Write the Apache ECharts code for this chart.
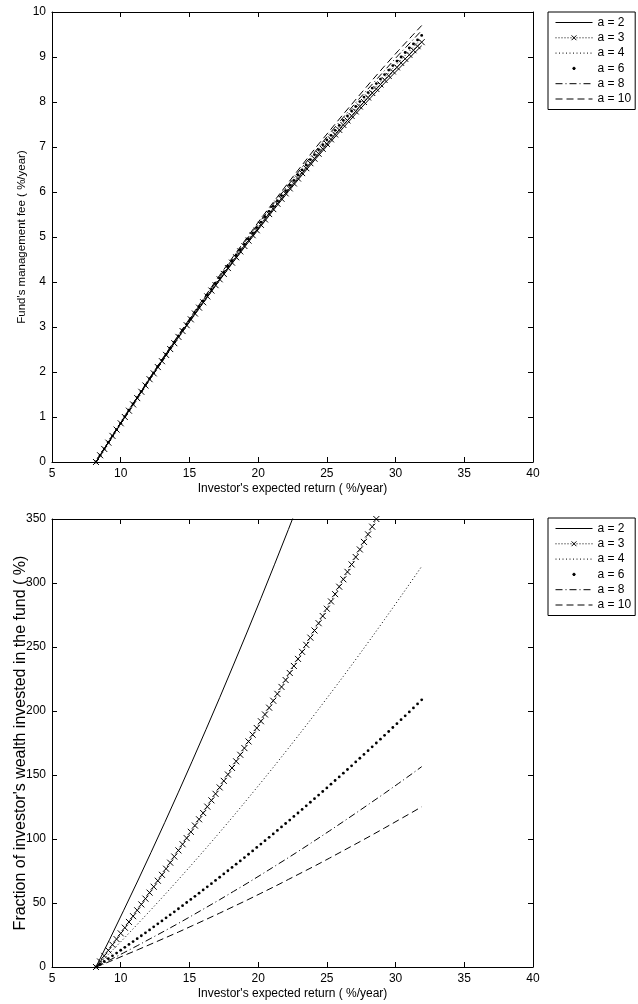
<!DOCTYPE html>
<html>
<head>
<meta charset="utf-8">
<script src="https://cdn.jsdelivr.net/npm/echarts@6/dist/echarts.min.js"></script>
<style>
  html, body { margin: 0; padding: 0; background: #fff; }
  #main { width: 638px; height: 1004px; }
</style>
</head>
<body>
<div id="main"></div>
<script>
'use strict';

// legend names
var aNames = ['a = 2', 'a = 3', 'a = 4', 'a = 6', 'a = 8', 'a = 10'];

// investor's expected return (%/year): dense grid for marker series, coarse grid for plain lines
var xDense = [8.2, 8.5, 8.8, 9.1, 9.4, 9.7, 10.0, 10.3, 10.6, 10.9, 11.2, 11.5, 11.8, 12.1, 12.4, 12.7,
  13.0, 13.3, 13.6, 13.9, 14.2, 14.5, 14.8, 15.1, 15.4, 15.7, 16.0, 16.3, 16.6, 16.9, 17.2, 17.5,
  17.8, 18.1, 18.4, 18.7, 19.0, 19.3, 19.6, 19.9, 20.2, 20.5, 20.8, 21.1, 21.4, 21.7, 22.0, 22.3,
  22.6, 22.9, 23.2, 23.5, 23.8, 24.1, 24.4, 24.7, 25.0, 25.3, 25.6, 25.9, 26.2, 26.5, 26.8, 27.1,
  27.4, 27.7, 28.0, 28.3, 28.6, 28.9, 29.2, 29.5, 29.8, 30.1, 30.4, 30.7, 31.0, 31.3, 31.6, 31.9];
var xCoarse = [8.2, 9.2, 10.2, 11.2, 12.2, 13.2, 14.2, 15.2, 16.2, 17.2, 18.2, 19.2, 20.2, 21.2,
  22.2, 23.2, 24.2, 25.2, 26.2, 27.2, 28.2, 29.2, 30.2, 31.2, 31.9];

// top panel: fund's management fee (%/year)
var feeA2 = [0, 0.48, 0.95, 1.42, 1.88, 2.33, 2.77, 3.20, 3.62, 4.04, 4.45, 4.85, 5.24, 5.63, 6.01,
  6.38, 6.74, 7.09, 7.43, 7.77, 8.10, 8.42, 8.73, 9.04, 9.25];
var feeA3 = [0, 0.15, 0.29, 0.43, 0.58, 0.72, 0.86, 1.00, 1.14, 1.28, 1.42, 1.56, 1.70, 1.84, 1.97,
  2.11, 2.24, 2.38, 2.51, 2.64, 2.78, 2.91, 3.04, 3.17, 3.30, 3.43, 3.55, 3.68, 3.81, 3.93, 4.06,
  4.18, 4.31, 4.43, 4.55, 4.68, 4.80, 4.92, 5.04, 5.15, 5.27, 5.39, 5.51, 5.62, 5.74, 5.85, 5.97,
  6.08, 6.19, 6.30, 6.42, 6.53, 6.64, 6.74, 6.85, 6.96, 7.07, 7.17, 7.28, 7.38, 7.49, 7.59, 7.69,
  7.79, 7.90, 8.00, 8.10, 8.20, 8.29, 8.39, 8.49, 8.58, 8.68, 8.77, 8.87, 8.96, 9.05, 9.15, 9.24, 9.33];
var feeA4 = [0, 0.48, 0.96, 1.43, 1.89, 2.34, 2.79, 3.22, 3.66, 4.08, 4.49, 4.90, 5.30, 5.69, 6.08,
  6.46, 6.82, 7.19, 7.54, 7.89, 8.22, 8.55, 8.88, 9.19, 9.41];
var feeA6 = [0, 0.15, 0.29, 0.44, 0.58, 0.72, 0.86, 1.01, 1.15, 1.29, 1.43, 1.57, 1.71, 1.85, 1.98,
  2.12, 2.26, 2.39, 2.53, 2.66, 2.80, 2.93, 3.06, 3.19, 3.32, 3.45, 3.58, 3.71, 3.84, 3.97, 4.09,
  4.22, 4.35, 4.47, 4.60, 4.72, 4.84, 4.96, 5.09, 5.21, 5.33, 5.45, 5.57, 5.68, 5.80, 5.92, 6.03,
  6.15, 6.26, 6.38, 6.49, 6.60, 6.72, 6.83, 6.94, 7.05, 7.16, 7.26, 7.37, 7.48, 7.59, 7.69, 7.80,
  7.90, 8.01, 8.11, 8.21, 8.31, 8.41, 8.51, 8.61, 8.71, 8.81, 8.91, 9.00, 9.10, 9.20, 9.29, 9.38, 9.48];
var feeA8 = [0, 0.48, 0.96, 1.43, 1.90, 2.36, 2.81, 3.25, 3.69, 4.12, 4.54, 4.96, 5.37, 5.77, 6.16,
  6.55, 6.92, 7.30, 7.66, 8.02, 8.36, 8.70, 9.04, 9.36, 9.59];
var feeA10 = [0, 0.48, 0.97, 1.44, 1.91, 2.37, 2.82, 3.27, 3.71, 4.15, 4.57, 4.99, 5.41, 5.81, 6.21,
  6.60, 6.99, 7.36, 7.73, 8.09, 8.45, 8.80, 9.14, 9.47, 9.70];

// bottom panel: fraction of investor's wealth invested in the fund (%)
var fracA2 = [0, 21.7, 43.9, 66.4, 89.4, 112.8, 136.6, 160.8, 185.4, 210.4, 235.9, 261.7, 288.0,
  314.7, 341.8, 369.3];
var fracA3 = [0, 4.3, 8.7, 13.0, 17.4, 21.8, 26.3, 30.7, 35.2, 39.7, 44.3, 48.9, 53.4, 58.1, 62.7,
  67.4, 72.0, 76.8, 81.5, 86.3, 91.1, 95.9, 100.7, 105.6, 110.5, 115.4, 120.3, 125.3, 130.2, 135.3,
  140.3, 145.4, 150.4, 155.5, 160.7, 165.8, 171.0, 176.2, 181.5, 186.7, 192.0, 197.3, 202.6, 208.0,
  213.4, 218.8, 224.2, 229.7, 235.2, 240.7, 246.2, 251.7, 257.3, 262.9, 268.6, 274.2, 279.9, 285.6,
  291.3, 297.1, 302.9, 308.7, 314.5, 320.3, 326.2, 332.1, 338.0, 344.0, 350.0, 356.0];
var fracA4 = [0, 10.9, 21.9, 33.2, 44.7, 56.4, 68.3, 80.4, 92.7, 105.2, 117.9, 130.9, 144.0, 157.3,
  170.9, 184.6, 198.6, 212.8, 227.1, 241.7, 256.5, 271.5, 286.7, 302.1, 313.0];
var fracA6 = [0, 2.2, 4.3, 6.5, 8.7, 10.9, 13.1, 15.4, 17.6, 19.9, 22.1, 24.4, 26.7, 29.0, 31.4,
  33.7, 36.0, 38.4, 40.8, 43.1, 45.5, 47.9, 50.4, 52.8, 55.2, 57.7, 60.2, 62.6, 65.1, 67.6, 70.1,
  72.7, 75.2, 77.8, 80.3, 82.9, 85.5, 88.1, 90.7, 93.4, 96.0, 98.7, 101.3, 104.0, 106.7, 109.4,
  112.1, 114.8, 117.6, 120.3, 123.1, 125.9, 128.7, 131.5, 134.3, 137.1, 139.9, 142.8, 145.7, 148.5,
  151.4, 154.3, 157.2, 160.2, 163.1, 166.1, 169.0, 172.0, 175.0, 178.0, 181.0, 184.0, 187.1, 190.1,
  193.2, 196.2, 199.3, 202.4, 205.5, 208.7];
var fracA8 = [0, 5.4, 11.0, 16.6, 22.4, 28.2, 34.1, 40.2, 46.4, 52.6, 59.0, 65.4, 72.0, 78.7, 85.4,
  92.3, 99.3, 106.4, 113.6, 120.9, 128.3, 135.7, 143.3, 151.0, 156.5];
var fracA10 = [0, 4.3, 8.8, 13.3, 17.9, 22.6, 27.3, 32.2, 37.1, 42.1, 47.2, 52.3, 57.6, 62.9, 68.4,
  73.9, 79.4, 85.1, 90.9, 96.7, 102.6, 108.6, 114.7, 120.8, 125.2];

function ready(fn) {
  if (document.readyState === 'loading') {
    document.addEventListener('DOMContentLoaded', fn);
  } else {
    fn();
  }
}

ready(function () {
  var FONT = '"Liberation Sans", Arial, sans-serif';

  // marker shapes (the dot is padded so the legend copy stays small too)
  var xMark = 'path://M0,0L10,10M10,0L0,10';
  var dotMark = 'path://M0,0M10,10M7.5,5A2.5,2.5,0,1,1,2.5,5A2.5,2.5,0,1,1,7.5,5Z';

  var seriesStyle = {
    'a = 2': { symbol: 'none', lineStyle: { color: '#000', width: 1 } },
    'a = 3': { symbol: xMark, symbolSize: 6, lineStyle: { color: '#000', width: 1, type: [1, 2] } },
    'a = 4': { symbol: 'none', lineStyle: { color: '#000', width: 1, type: [1, 2.5] } },
    'a = 6': { symbol: dotMark, symbolSize: 5.6, lineStyle: { color: '#000', width: 0, opacity: 0 } },
    'a = 8': { symbol: 'none', lineStyle: { color: '#000', width: 1, type: [7, 3, 1, 3] } },
    'a = 10': { symbol: 'none', lineStyle: { color: '#000', width: 1, type: [7, 4] } }
  };

  function pairs(xs, ys) {
    return ys.map(function (y, i) { return [xs[i], y]; });
  }

  function makeSeries(name, xs, ys, axisIdx) {
    var st = seriesStyle[name];
    return {
      name: name,
      type: 'line',
      xAxisIndex: axisIdx,
      yAxisIndex: axisIdx,
      data: pairs(xs, ys),
      color: '#000',
      symbol: st.symbol,
      symbolSize: st.symbolSize || 4,
      symbolKeepAspect: true,
      showSymbol: st.symbol !== 'none',
      itemStyle: { color: '#000', borderColor: '#000', borderWidth: st.symbol === xMark ? 1 : 0 },
      lineStyle: st.lineStyle,
      clip: true,
      silent: true,
      emphasis: { disabled: true },
      z: 3
    };
  }

  var axisText = { color: '#000', fontFamily: FONT, fontSize: 12 };

  function xAx(grid, pos) {
    var main = pos === 'bottom';
    return {
      type: 'value', gridIndex: grid, position: pos, min: 5, max: 40, interval: 5,
      name: main ? "Investor's expected return ( %/year)" : '',
      nameLocation: 'middle', nameGap: 21, nameMoveOverlap: false,
      nameTextStyle: { color: '#000', fontFamily: FONT, fontSize: 12 },
      axisLine: { show: true, onZero: false, lineStyle: { color: '#000', width: 1 } },
      axisTick: { show: true, inside: true, length: 5, lineStyle: { color: '#000' } },
      axisLabel: Object.assign({ show: main, margin: 6 }, axisText),
      splitLine: { show: false }
    };
  }

  function yAx(grid, pos, max, interval, title, titleSize, gap) {
    var main = pos === 'left';
    return {
      type: 'value', gridIndex: grid, position: pos, min: 0, max: max, interval: interval,
      name: main ? title : '',
      nameLocation: 'middle', nameGap: gap || 24, nameMoveOverlap: false,
      nameTextStyle: { color: '#000', fontFamily: FONT, fontSize: titleSize || 12 },
      axisLine: { show: true, onZero: false, lineStyle: { color: '#000', width: 1 } },
      axisTick: { show: true, inside: true, length: 5, lineStyle: { color: '#000' } },
      axisLabel: Object.assign({ show: main, margin: 6 }, axisText),
      splitLine: { show: false }
    };
  }

  function legendAt(top) {
    return {
      orient: 'vertical', left: 548, top: top,
      data: [
        { name: aNames[0], itemStyle: { opacity: 0 } },
        { name: aNames[1] },
        { name: aNames[2], itemStyle: { opacity: 0 } },
        { name: aNames[3], lineStyle: { opacity: 0 } },
        { name: aNames[4], itemStyle: { opacity: 0 } },
        { name: aNames[5], itemStyle: { opacity: 0 } }
      ],
      itemWidth: 37, itemHeight: 6, itemGap: 2.3, itemTextGap: 4,
      padding: [4, 4, 4, 7],
      borderColor: '#000', borderWidth: 1, backgroundColor: '#fff',
      selectedMode: false,
      itemStyle: { borderWidth: 1 },
      lineStyle: { width: 1 },
      textStyle: { color: '#000', fontFamily: FONT, fontSize: 12, lineHeight: 13 }
    };
  }

  var series = [
    makeSeries('a = 2', xCoarse, feeA2, 0),
    makeSeries('a = 3', xDense, feeA3, 0),
    makeSeries('a = 4', xCoarse, feeA4, 0),
    makeSeries('a = 6', xDense, feeA6, 0),
    makeSeries('a = 8', xCoarse, feeA8, 0),
    makeSeries('a = 10', xCoarse, feeA10, 0),
    makeSeries('a = 2', xCoarse, fracA2, 2),
    makeSeries('a = 3', xDense, fracA3, 2),
    makeSeries('a = 4', xCoarse, fracA4, 2),
    makeSeries('a = 6', xDense, fracA6, 2),
    makeSeries('a = 8', xCoarse, fracA8, 2),
    makeSeries('a = 10', xCoarse, fracA10, 2)
  ];

  var option = {
    backgroundColor: '#fff',
    animation: false,
    textStyle: { fontFamily: FONT },
    grid: [
      { left: 52, right: 105, top: 12, height: 450, outerBoundsMode: 'none', containLabel: false },
      { left: 52, right: 105, top: 519, height: 448, outerBoundsMode: 'none', containLabel: false }
    ],
    xAxis: [xAx(0, 'bottom'), xAx(0, 'top'), xAx(1, 'bottom'), xAx(1, 'top')],
    yAxis: [
      yAx(0, 'left', 10, 1, "Fund's management fee ( %/year)", 11.5, 24),
      yAx(0, 'right', 10, 1, ''),
      yAx(1, 'left', 350, 50, "Fraction of investor's wealth invested in the fund ( %)", 16, 23),
      yAx(1, 'right', 350, 50, '')
    ],
    legend: [legendAt(12), legendAt(518)],
    series: series
  };

  var myChart = echarts.init(document.getElementById('main'));
  myChart.setOption(option);
});
</script>
</body>
</html>
